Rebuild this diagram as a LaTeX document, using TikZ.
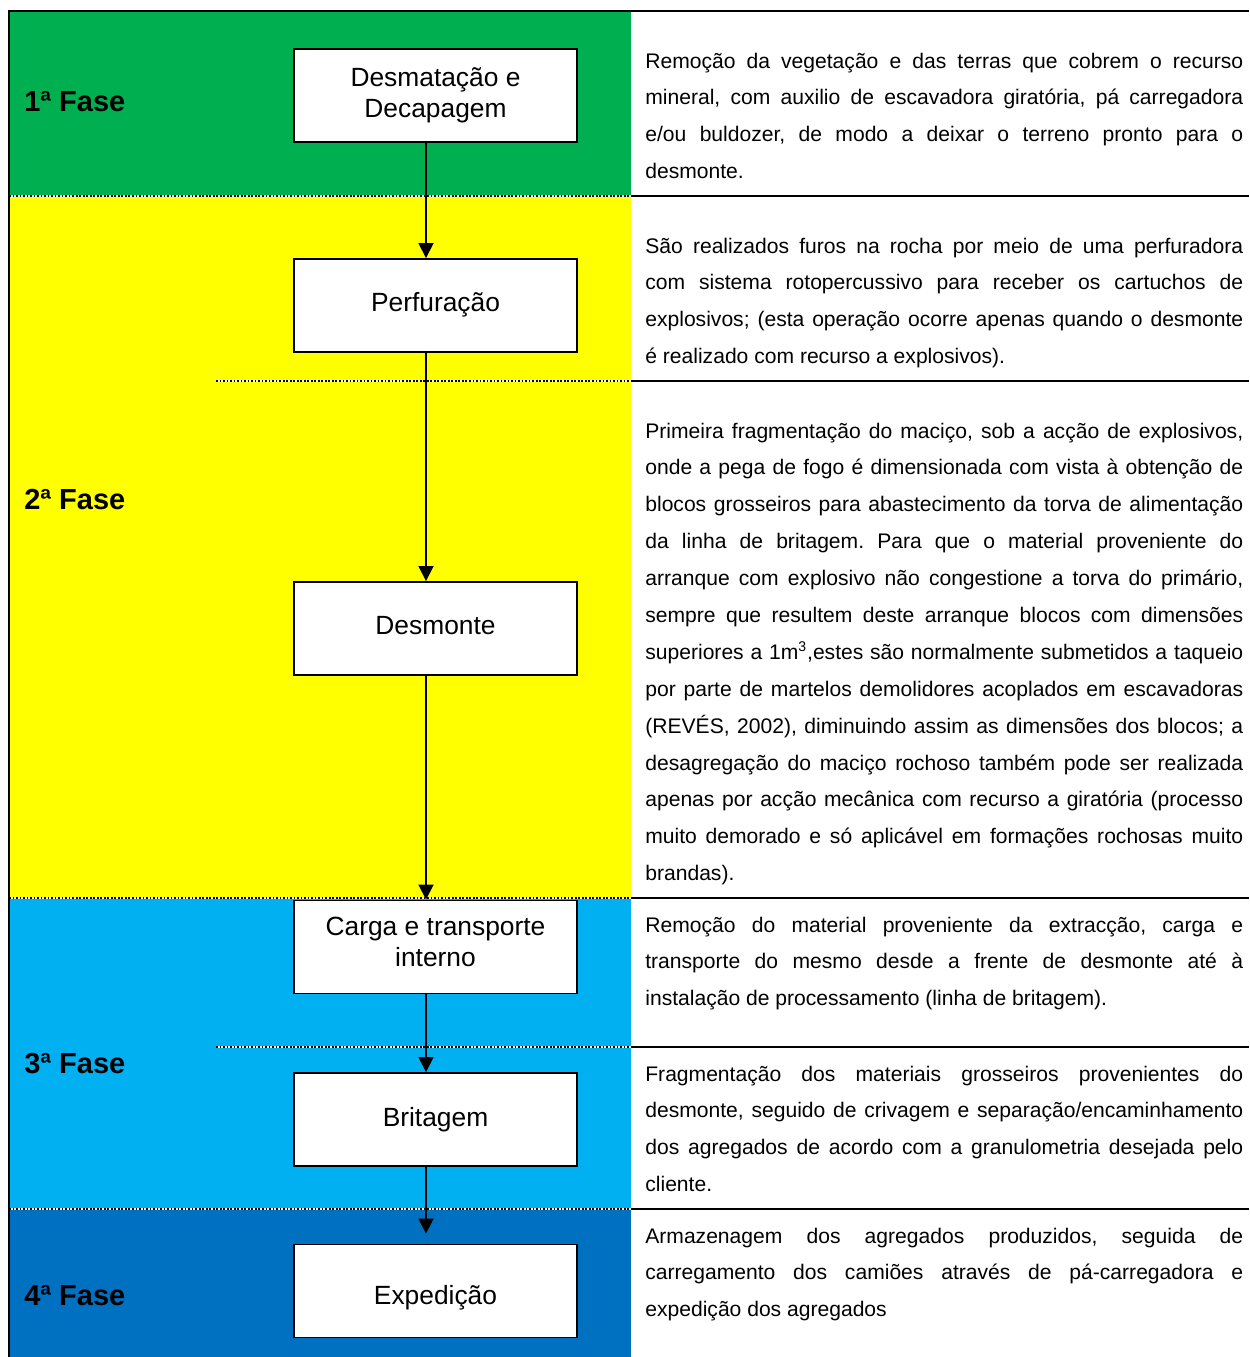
\documentclass[tikz,border=0pt]{standalone}
\usepackage{fontspec}
\setmainfont{Liberation Sans}
\usetikzlibrary{arrows.meta}
\definecolor{faseA}{HTML}{00B050}
\definecolor{faseB}{HTML}{FFFF00}
\definecolor{faseC}{HTML}{00B0F0}
\definecolor{faseD}{HTML}{0070C0}
\newlength\descw
\setlength\descw{11.96cm}
\newcommand{\jl}[1]{\makebox[\descw][s]{\spaceskip=0pt\xspaceskip=0pt #1}\\}
\tikzset{>={Triangle[length=0.3cm,width=0.3cm]}, x=0.02cm, y=-0.02cm,
  etapa/.style={draw, line width=1.1pt, fill=white, minimum width=5.66cm, minimum height=1.86cm, align=center, font=\fontsize{15}{17.6}\selectfont},
  fase/.style={anchor=west, inner sep=0pt, font=\fontsize{16.5}{19}\selectfont\bfseries},
  desc/.style={anchor=base west, inner sep=0pt, text width=\descw, align=justify, font=\fontsize{12}{21}\selectfont\frenchspacing},
  divisor/.style={densely dotted, line width=1pt},
  linha/.style={line width=1.2pt},
}

\begin{document}
\begin{tikzpicture}
    \useasboundingbox (0,0) rectangle (1249,1357);
    % faixas das fases
    \fill[faseA] (9,11) rectangle (631,196);
    \fill[faseB] (9,196) rectangle (631,898);
    \fill[faseC] (9,898) rectangle (631,1209);
    \fill[faseD] (9,1209) rectangle (631,1357);
    \foreach \xa/\yy in {9/196, 216/381, 9/898, 216/1047, 9/1209} {
        \draw[white, line width=1pt] (\xa,\yy) -- (631,\yy);
        \draw[divisor] (\xa,\yy) -- (631,\yy);
        \draw[linha] (631,\yy) -- (1249,\yy);
    }
    \draw[line width=1.5pt] (9,1357) -- (9,11) -- (1249,11);

    \node[fase] at (24,102) (f1) {1ª Fase};
    \node[fase] at (24,500) (f2) {2ª Fase};
    \node[fase] at (24,1064) (f3) {3ª Fase};
    \node[fase] at (24,1296) (f4) {4ª Fase};

    \node[etapa] at (435.5,95.5) (desm) {Desmatação e\\Decapagem\vphantom{p}};
    \node[etapa] at (435.5,305.5) (perf) {\raisebox{4pt}{Perfuração}};
    \node[etapa] at (435.5,628.5) (dsmt) {\raisebox{3pt}{Desmonte}};
    \node[etapa, text depth=6pt] at (435.5,947) (carga) {Carga e transporte\\interno};
    \node[etapa] at (435.5,1119.5) (brit) {\raisebox{3pt}{Britagem}};
    \node[etapa] at (435.5,1291) (exped) {\raisebox{-4pt}[\height][\depth]{Expedição}};

    \path[->, line width=1pt] ([xshift=-0.19cm]desm.south) edge ([xshift=-0.19cm]perf.north)
        ([xshift=-0.19cm]perf.south) edge ([xshift=-0.19cm]dsmt.north)
        ([xshift=-0.19cm]dsmt.south) edge ([xshift=-0.19cm]carga.north)
        ([xshift=-0.19cm]carga.south) edge ([xshift=-0.19cm]brit.north)
        ([xshift=-0.19cm]brit.south) edge[shorten >=0.2cm] ([xshift=-0.19cm]exped.north);

    \node[desc] at (645,68) (d1) {\jl{Remoção da vegetação e das terras que cobrem o recurso}
        \jl{mineral, com auxilio de escavadora giratória, pá carregadora}
        \jl{e/ou buldozer, de modo a deixar o terreno pronto para o}
        desmonte.};
    \node[desc] at (645,253) (d2) {\jl{São realizados furos na rocha por meio de uma perfuradora}
        \jl{com sistema rotopercussivo para receber os cartuchos de}
        \jl{explosivos; (esta operação ocorre apenas quando o desmonte}
        é realizado com recurso a explosivos).};
    \node[desc] at (645,438) (d3) {\jl{Primeira fragmentação do maciço, sob a acção de explosivos,}
        \jl{onde a pega de fogo é dimensionada com vista à obtenção de}
        \jl{blocos grosseiros para abastecimento da torva de alimentação}
        \jl{da linha de britagem. Para que o material proveniente do}
        \jl{arranque com explosivo não congestione a torva do primário,}
        \jl{sempre que resultem deste arranque blocos com dimensões}
        \jl{superiores a 1m\textsuperscript{3},estes são normalmente submetidos a taqueio}
        \jl{por parte de martelos demolidores acoplados em escavadoras}
        \jl{(REVÉS, 2002), diminuindo assim as dimensões dos blocos; a}
        \jl{desagregação do maciço rochoso também pode ser realizada}
        \jl{apenas por acção mecânica com recurso a giratória (processo}
        \jl{muito demorado e só aplicável em formações rochosas muito}
        brandas).};
    \node[desc] at (645,932) (d4) {\jl{Remoção do material proveniente da extracção, carga e}
        \jl{transporte do mesmo desde a frente de desmonte até à}
        instalação de processamento (linha de britagem).};
    \node[desc] at (645,1081) (d5) {\jl{Fragmentação dos materiais grosseiros provenientes do}
        \jl{desmonte, seguido de crivagem e separação/encaminhamento}
        \jl{dos agregados de acordo com a granulometria desejada pelo}
        cliente.};
    \node[desc] at (645,1243) (d6) {\jl{Armazenagem dos agregados produzidos, seguida de}
        \jl{carregamento dos camiões através de pá-carregadora e}
        expedição dos agregados};
\end{tikzpicture}
\end{document}
